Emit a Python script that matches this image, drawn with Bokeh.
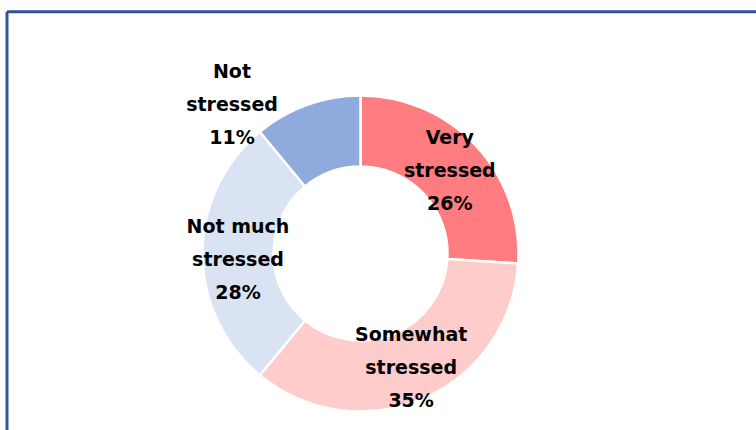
import math
from bokeh.plotting import figure
from bokeh.models import Range1d, ColumnDataSource
from bokeh.core.properties import value
from bokeh.embed import file_html
from bokeh.resources import INLINE

# ---- data ----
categories = ["Very\nstressed", "Somewhat\nstressed", "Not much\nstressed", "Not\nstressed"]
shares = [26, 35, 28, 11]
colors = ["#FF7C80", "#FFCCCC", "#DAE3F3", "#8FAADC"]

# ---- layout ----
W, H = 756, 430
cx, cy = 360, H - 253          # donut centre (data units = pixels)
r_out, r_in = 158, 87
label_r = (r_out + r_in) / 2
label_offsets = [(0, 0), (2, -1), (0, -5), (-87, 34)]

p = figure(width=W, height=H, output_backend="svg", toolbar_location=None,
           x_range=Range1d(0, W), y_range=Range1d(0, H), min_border=0)
p.axis.visible = False
p.xgrid.visible = False
p.ygrid.visible = False
p.outline_line_color = None
p.background_fill_color = "white"
p.border_fill_color = "white"

total = float(sum(shares))
starts, ends, lx, ly, texts = [], [], [], [], []
cum = 0.0
for i, (c, s) in enumerate(zip(categories, shares)):
    a0 = math.pi / 2 - 2 * math.pi * cum / total
    a1 = math.pi / 2 - 2 * math.pi * (cum + s) / total
    starts.append(a0)
    ends.append(a1)
    mid = (a0 + a1) / 2
    dx, dy = label_offsets[i]
    lx.append(cx + label_r * math.cos(mid) + dx)
    ly.append(cy + label_r * math.sin(mid) + dy)
    texts.append(f"{c}\n{s}%")
    cum += s

src = ColumnDataSource(dict(start=starts, end=ends, color=colors,
                            x=[cx] * len(shares), y=[cy] * len(shares)))
p.annular_wedge(x="x", y="y", inner_radius=r_in, outer_radius=r_out,
                inner_radius_units="screen", outer_radius_units="screen",
                start_angle="start", end_angle="end", direction="clock",
                fill_color="color", line_color="white", line_width=2.5, source=src)

lsrc = ColumnDataSource(dict(x=lx, y=ly, text=texts))
p.text(x="x", y="y", text="text", source=lsrc, text_align="center",
       text_baseline="middle", text_font=value("DejaVu Sans"),
       text_font_style="bold", text_font_size="19px", text_color="#000000",
       text_line_height=1.5)

# frame (left and top edges visible in this crop)
p.line(x=[6.5, 6.5], y=[-10, H - 11.3], line_color="#2F5597", line_width=3)
p.line(x=[6.5, W + 10], y=[H - 11.3, H - 11.3], line_color="#2F5597", line_width=3)

open("out.html", "w").write(file_html(p, INLINE))
